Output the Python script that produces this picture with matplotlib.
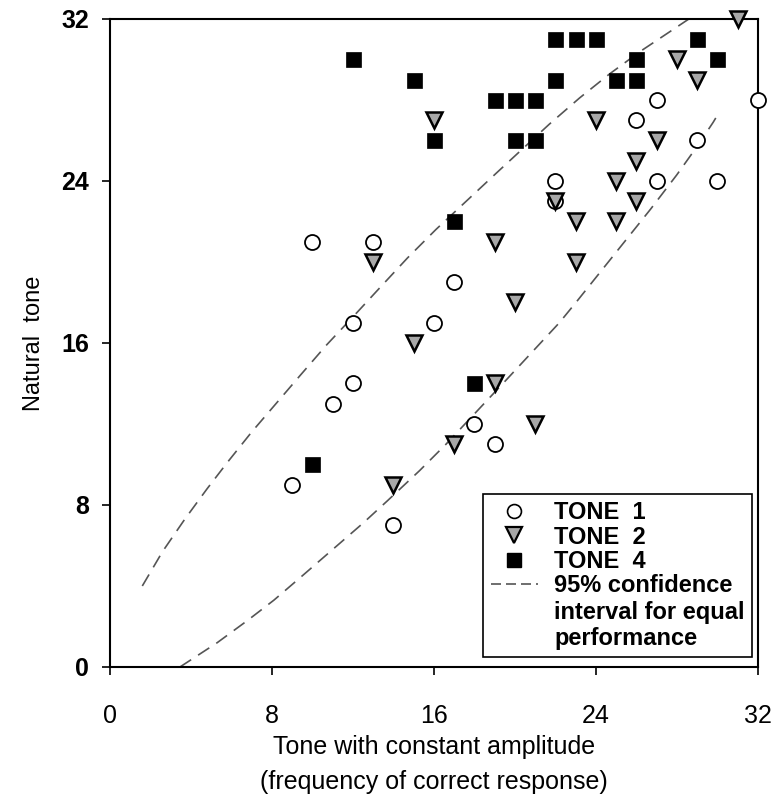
import matplotlib.pyplot as plt
from matplotlib.lines import Line2D
from matplotlib.legend_handler import HandlerLine2D

# Data
tone1_x = [10, 13, 12, 16, 12, 11, 9, 14, 17, 18, 19, 22, 22, 26, 27, 27, 29, 30, 32]
tone1_y = [21, 21, 17, 17, 14, 13, 9, 7, 19, 12, 11, 24, 23, 27, 28, 24, 26, 24, 28]

tone2_x = [31, 16, 13, 15, 14, 19, 20, 19, 17, 21, 22, 23, 23, 24, 25, 25, 26, 26, 27, 28, 29]
tone2_y = [32, 27, 20, 16, 9, 21, 18, 14, 11, 12, 23, 22, 20, 27, 24, 22, 25, 23, 26, 30, 29]

tone4_x = [12, 15, 16, 19, 20, 21, 20, 21, 22, 23, 24, 22, 25, 26, 26, 29, 30, 17, 18, 10]
tone4_y = [30, 29, 26, 28, 28, 28, 26, 26, 31, 31, 31, 29, 29, 29, 30, 31, 30, 22, 14, 10]

# 95% confidence band
upper_x = [1.6, 2.6, 3.7, 4.8, 5.8, 7.0, 8.2, 9.4, 10.7, 12.2, 13.4, 14.7, 16.1, 17.6,
           19.1, 20.4, 21.7, 23.2, 24.7, 26.2, 27.7, 28.6]
upper_y = [4.0, 5.7, 7.3, 8.8, 10.1, 11.6, 13.0, 14.4, 15.9, 17.5, 18.8, 20.2, 21.6, 23.0,
           24.4, 25.6, 26.8, 28.1, 29.3, 30.4, 31.4, 32.0]
lower_x = [3.46, 5.3, 6.8, 8.1, 9.5, 11.0, 12.5, 13.7, 15.3, 16.6, 18.1, 19.6, 20.9, 22.2,
           23.1, 24.3, 25.5, 26.7, 28.0, 29.0, 29.8, 30.1]
lower_y = [0.0, 1.2, 2.3, 3.3, 4.5, 5.8, 7.1, 8.2, 9.7, 11.0, 12.6, 14.2, 15.6, 17.0,
           18.1, 19.6, 21.1, 22.6, 24.3, 25.7, 26.9, 27.4]

ticks = [0, 8, 16, 24, 32]


class TopLineHandler(HandlerLine2D):
    # put the dashed sample next to the first line of a multi-line label
    def create_artists(self, legend, orig_handle, xdescent, ydescent, width, height,
                       fontsize, trans):
        arts = super().create_artists(legend, orig_handle, xdescent, ydescent, width,
                                      height, fontsize, trans)
        for a in arts:
            a.set_ydata([y + 1.2 * fontsize for y in a.get_ydata()])
        return arts


fig = plt.figure(figsize=(7.74, 8.07), dpi=100)
ax = fig.add_axes([0.142, 0.1735, 0.837, 0.803])

dash = (0, (8, 5))
ax.plot(upper_x, upper_y, color='#555555', lw=1.2, linestyle=dash)
ax.plot(lower_x, lower_y, color='#555555', lw=1.2, linestyle=dash)

ms = 10.8
ax.plot(tone1_x, tone1_y, 'o', ms=ms, mfc='white', mec='black', mew=1.3,
        clip_on=False, zorder=3)
ax.plot(tone2_x, tone2_y, 'v', ms=ms + 0.8, mfc='#a8a8a8', mec='black', mew=1.8,
        clip_on=False, zorder=4)
ax.plot(tone4_x, tone4_y, 's', ms=ms, mfc='black', mec='black', mew=0.5,
        clip_on=False, zorder=5)

ax.set_xlim(0, 32)
ax.set_ylim(0, 32)
ax.set_xticks(ticks)
ax.set_yticks(ticks)
ax.set_xticklabels([str(t) for t in ticks], family='Liberation Sans', fontsize=18)
ax.set_yticklabels([str(t) for t in ticks], family='Liberation Sans', fontsize=18,
                   fontweight='bold')
ax.tick_params(direction='out', length=6, width=1.2)
ax.tick_params(axis='x', pad=21)
ax.tick_params(axis='y', pad=9)
for s in ax.spines.values():
    s.set_linewidth(1.5)

ax.set_ylabel('Natural  tone', family='Liberation Sans', fontsize=17, labelpad=12)
ax.set_xlabel('Tone with constant amplitude\n(frequency of correct response)',
              family='Liberation Sans', fontsize=18, linespacing=1.55, labelpad=5)

handles = [
    Line2D([], [], marker='o', ls='', ms=10, mfc='white', mec='black', mew=1.2),
    Line2D([], [], marker='v', ls='', ms=11, mfc='#a8a8a8', mec='black', mew=1.6),
    Line2D([], [], marker='s', ls='', ms=10, mfc='black', mec='black'),
    Line2D([], [], color='#555555', lw=1.2, linestyle=(0, (6, 3))),
]
labels = ['TONE  1', 'TONE  2', 'TONE  4', '95% confidence\ninterval for equal\nperformance']
leg = ax.legend(handles, labels, loc='lower right', bbox_to_anchor=(0.991, 0.015),
                handler_map={handles[3]: TopLineHandler()},
                prop={'family': 'Liberation Sans', 'weight': 'bold', 'size': 17},
                frameon=True, fancybox=False, framealpha=1, edgecolor='black',
                borderpad=0.3, labelspacing=0.05, handlelength=2.0, handletextpad=0.7,
                borderaxespad=0)
leg.get_frame().set_linewidth(1.2)

fig.savefig('out.png', dpi=100)
